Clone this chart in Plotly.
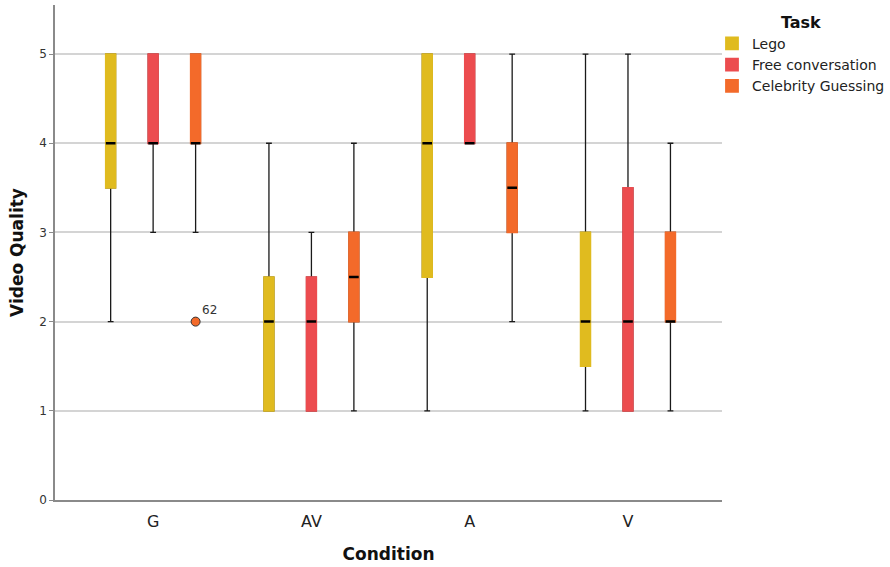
import plotly.graph_objects as go

conditions = ["G", "AV", "A", "V"]
tasks = ["Lego", "Free conversation", "Celebrity Guessing"]
task_colors = ["#e0bb1f", "#ec4c4f", "#f36a2a"]

# five-number summaries per task, in order of conditions
lego_low = [2, 1, 1, 1]
lego_q1 = [3.5, 1, 2.5, 1.5]
lego_med = [4, 2, 4, 2]
lego_q3 = [5, 2.5, 5, 3]
lego_high = [5, 4, 5, 5]

free_low = [3, 1, 4, 1]
free_q1 = [4, 1, 4, 1]
free_med = [4, 2, 4, 2]
free_q3 = [5, 2.5, 5, 3.5]
free_high = [5, 3, 5, 5]

celeb_low = [3, 1, 2, 1]
celeb_q1 = [4, 2, 3, 2]
celeb_med = [4, 2.5, 3.5, 2]
celeb_q3 = [5, 3, 4, 3]
celeb_high = [5, 4, 5, 4]

outlier_condition = ["G"]
outlier_task = "Celebrity Guessing"
outlier_value = [2]
outlier_label = ["62"]

y_ticks = [0, 1, 2, 3, 4, 5]

stats = {
    "Lego": (lego_low, lego_q1, lego_med, lego_q3, lego_high),
    "Free conversation": (free_low, free_q1, free_med, free_q3, free_high),
    "Celebrity Guessing": (celeb_low, celeb_q1, celeb_med, celeb_q3, celeb_high),
}

FONT = "DejaVu Sans"
fig = go.Figure()

for task, color in zip(tasks, task_colors):
    lo, q1, med, q3, hi = stats[task]
    # whiskers (black)
    fig.add_trace(go.Box(
        x=conditions, q1=q1, median=med, q3=q3, lowerfence=lo, upperfence=hi,
        offsetgroup=task, name=task, showlegend=False,
        line=dict(color="#1a1a1a", width=1.3), fillcolor="rgba(0,0,0,0)",
        whiskerwidth=0.6, boxpoints=False, hoverinfo="skip",
    ))
    # coloured box
    fig.add_trace(go.Box(
        x=conditions, q1=q1, median=med, q3=q3, lowerfence=q1, upperfence=q3,
        offsetgroup=task, name=task, showlegend=True,
        line=dict(color=color, width=1.8), fillcolor=color,
        whiskerwidth=0, boxpoints=False,
    ))
    # black median line
    fig.add_trace(go.Box(
        x=conditions, q1=med, median=med, q3=med, lowerfence=med, upperfence=med,
        offsetgroup=task, name=task, showlegend=False,
        line=dict(color="#000000", width=2.5), fillcolor="#000000",
        whiskerwidth=0, boxpoints=False, hoverinfo="skip",
    ))

# outlier point
fig.add_trace(go.Box(
    x=outlier_condition, y=outlier_value, offsetgroup=outlier_task,
    name=outlier_task, showlegend=False,
    boxpoints="all", jitter=0, pointpos=0,
    line=dict(color="rgba(0,0,0,0)", width=0), fillcolor="rgba(0,0,0,0)",
    marker=dict(color=task_colors[2], size=9, line=dict(color="#333333", width=1)),
))
for cx, val, lab in zip(outlier_condition, outlier_value, outlier_label):
    fig.add_annotation(x=cx, y=val, text=lab, showarrow=False, xshift=56, yshift=12,
                       font=dict(family=FONT, size=12, color="#333333"))

fig.update_layout(
    width=890, height=567,
    margin=dict(l=55, r=168, t=5, b=67, autoexpand=False),
    paper_bgcolor="white", plot_bgcolor="white",
    boxmode="group", boxgap=0.195, boxgroupgap=0.772,
    font=dict(family=FONT, color="#333333"),
    legend=dict(
        x=0.985, y=0.996, xanchor="left", yanchor="top",
        title=dict(text="<b>Task</b>", side="top center",
                   font=dict(family=FONT, size=16, color="#111111")),
        font=dict(family=FONT, size=14, color="#222222"),
        itemwidth=30, tracegroupgap=0, bgcolor="rgba(0,0,0,0)",
    ),
    xaxis=dict(
        type="category", categoryorder="array", categoryarray=conditions,
        range=[-0.62, 3.594],
        showline=True, linecolor="#8a8a8a", linewidth=1.5,
        ticks="", showgrid=False, zeroline=False,
        tickfont=dict(family=FONT, size=16, color="#222222"),
        ticklabelstandoff=6,
        title=dict(text="<b>Condition</b>", font=dict(family=FONT, size=17, color="#111111"),
                   standoff=18),
    ),
    yaxis=dict(
        range=[0, 5.55], tickvals=y_ticks,
        showline=True, linecolor="#8a8a8a", linewidth=1.5,
        ticks="outside", ticklen=4, tickcolor="#8a8a8a",
        showgrid=True, gridcolor="#d4d4d4", gridwidth=1.5, zeroline=False,
        tickfont=dict(family=FONT, size=12, color="#333333"),
        title=dict(text="<b>Video Quality</b>", font=dict(family=FONT, size=17, color="#111111"),
                   standoff=11),
    ),
)

fig.write_html("out.html")
